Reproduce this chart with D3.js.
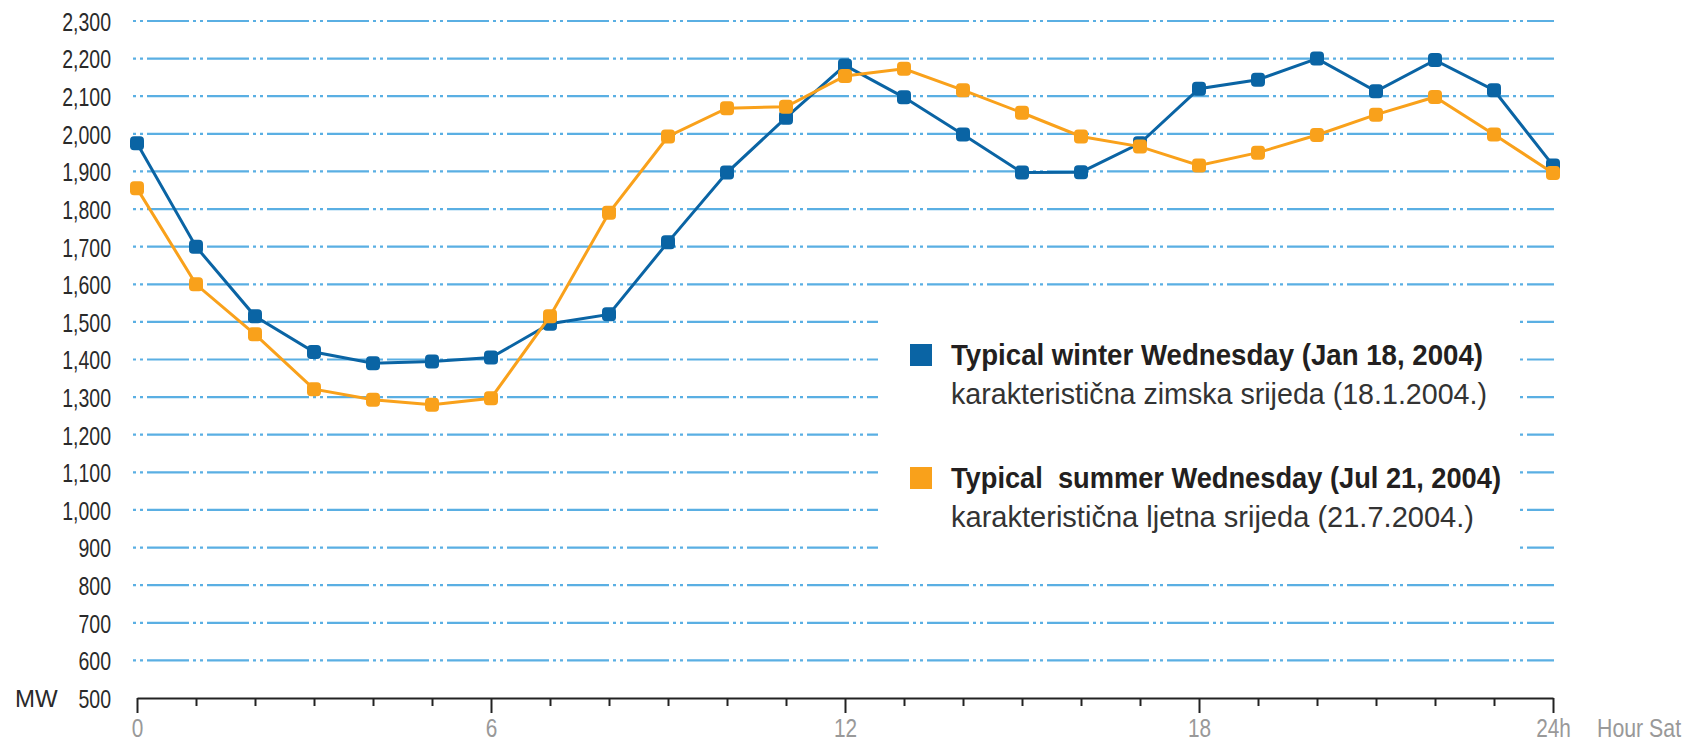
<!DOCTYPE html>
<html>
<head>
<meta charset="utf-8">
<script src="https://cdn.jsdelivr.net/npm/d3@7"></script>
<style>
  body { margin: 0; background: #fff; }
  svg { display: block; font-family: "Liberation Sans", Arial, sans-serif; }
</style>
</head>
<body>
<script>
// chart data
var hours = [0, 1, 2, 3, 4, 5, 6, 7, 8, 9, 10, 11, 12, 13, 14, 15, 16, 17, 18, 19, 20, 21, 22, 23, 24];
var winter = [1975, 1700, 1515, 1420, 1390, 1395, 1405, 1495, 1520, 1712, 1897, 2043, 2182,
              2097, 1998, 1897, 1898, 1975, 2120, 2144, 2200, 2113, 2196, 2116, 1916];
var summer = [1855, 1600, 1467, 1321, 1293, 1280, 1297, 1515, 1790, 1993, 2068, 2072, 2154,
              2173, 2116, 2056, 1993, 1966, 1916, 1950, 1997, 2051, 2098, 1998, 1896];
var yTicks = [500, 600, 700, 800, 900, 1000, 1100, 1200, 1300, 1400, 1500, 1600, 1700,
              1800, 1900, 2000, 2100, 2200, 2300];
var majorHours = [0, 6, 12, 18, 24];
var legendLines = [
    ["Typical winter Wednesday (Jan 18, 2004)", "karakteristi\u010dna zimska srijeda (18.1.2004.)"],
    ["Typical  summer Wednesday (Jul 21, 2004)", "karakteristi\u010dna ljetna srijeda (21.7.2004.)"]
];

var width = 1702,
    height = 744;

var blue = '#0a64a4',
    orange = '#f9a11b',
    gridBlue = '#5aafe3';

var x = d3.scaleLinear().domain([0, 24]).range([137, 1553]);
var y = d3.scaleLinear().domain([500, 2300]).range([698, 21]);

var svg = d3.select('body')
    .append('svg')
    .attr('width', width)
    .attr('height', height);

// dash-dot-dot grid lines
svg.append('g')
    .selectAll('line')
    .data(yTicks.slice(1))
    .enter().append('line')
    .attr('x1', 133)
    .attr('x2', 1554)
    .attr('y1', function(d) { return y(d); })
    .attr('y2', function(d) { return y(d); })
    .attr('stroke', gridBlue)
    .attr('stroke-width', 2.2)
    .attr('stroke-dasharray', '42,4,3,4,3,4')
    .attr('stroke-dashoffset', 46);

// white box behind the legend cuts the grid
svg.append('rect')
    .attr('x', 878)
    .attr('y', 300)
    .attr('width', 642)
    .attr('height', 268)
    .attr('fill', '#fff');

// y axis labels
var yAxis = svg.append('g')
    .attr('transform', 'translate(111,0)')
    .call(d3.axisLeft(y).tickValues(yTicks).tickSize(0).tickPadding(0).tickFormat(d3.format(',')));
yAxis.select('.domain').remove();
yAxis.selectAll('text')
    .attr('x', 0)
    .attr('dy', '0.36em')
    .attr('transform', 'scale(0.75,1)')
    .style('font-family', '"Liberation Sans", Arial, sans-serif')
    .style('font-size', '26px')
    .attr('fill', '#2a2a2a');

svg.append('text')
    .attr('x', 15)
    .attr('y', y(500))
    .attr('dy', '0.36em')
    .style('font-size', '24px')
    .attr('fill', '#2a2a2a')
    .text('MW');

// x axis with longer ticks every 6 hours
var xAxis = svg.append('g')
    .attr('transform', 'translate(0,' + y(500) + ')')
    .call(d3.axisBottom(x)
        .tickValues(hours)
        .tickSizeInner(8)
        .tickSizeOuter(0)
        .tickFormat(function(d) {
            if (d === 24) return '24h';
            return majorHours.indexOf(d) >= 0 ? d : '';
        }));
xAxis.select('.domain')
    .attr('stroke', '#222')
    .attr('stroke-width', 2.2);
xAxis.selectAll('.tick line')
    .attr('stroke', '#222')
    .attr('stroke-width', 2)
    .attr('y2', function(d) { return majorHours.indexOf(d) >= 0 ? 15 : 8; });
xAxis.selectAll('.tick text')
    .attr('y', 39)
    .attr('dy', 0)
    .attr('transform', 'scale(0.8,1)')
    .style('font-family', '"Liberation Sans", Arial, sans-serif')
    .style('font-size', '26px')
    .attr('fill', '#999');

svg.append('text')
    .attr('transform', 'translate(1597,737) scale(0.82,1)')
    .style('font-size', '26px')
    .attr('fill', '#999')
    .text('Hour Sat');

// series lines and markers, summer drawn on top
var line = d3.line()
    .x(function(d, i) { return x(hours[i]); })
    .y(function(d) { return y(d); });

[[winter, blue], [summer, orange]].forEach(function(s) {
    var g = svg.append('g');
    g.append('path')
        .datum(s[0])
        .attr('d', line)
        .attr('fill', 'none')
        .attr('stroke', s[1])
        .attr('stroke-width', 3);
    g.selectAll('rect')
        .data(s[0])
        .enter().append('rect')
        .attr('x', function(d, i) { return x(hours[i]) - 7; })
        .attr('y', function(d) { return y(d) - 7; })
        .attr('width', 14)
        .attr('height', 14)
        .attr('rx', 4)
        .attr('fill', s[1]);
});

// legend
var legendTop = [344, 467],
    legendWidths = [[532, 536], [550, 523]],
    legendColors = [blue, orange];

legendLines.forEach(function(l, i) {
    var top = legendTop[i];
    svg.append('rect')
        .attr('x', 910)
        .attr('y', top)
        .attr('width', 22)
        .attr('height', 22)
        .attr('fill', legendColors[i]);
    svg.append('text')
        .attr('x', 951)
        .attr('y', top + 21)
        .attr('textLength', legendWidths[i][0])
        .attr('lengthAdjust', 'spacingAndGlyphs')
        .style('white-space', 'pre')
        .style('font-size', '30px')
        .style('font-weight', 'bold')
        .attr('fill', '#231f20')
        .text(l[0]);
    svg.append('text')
        .attr('x', 951)
        .attr('y', top + 60)
        .attr('textLength', legendWidths[i][1])
        .attr('lengthAdjust', 'spacingAndGlyphs')
        .style('font-size', '30px')
        .attr('fill', '#333')
        .text(l[1]);
});
</script>
</body>
</html>
